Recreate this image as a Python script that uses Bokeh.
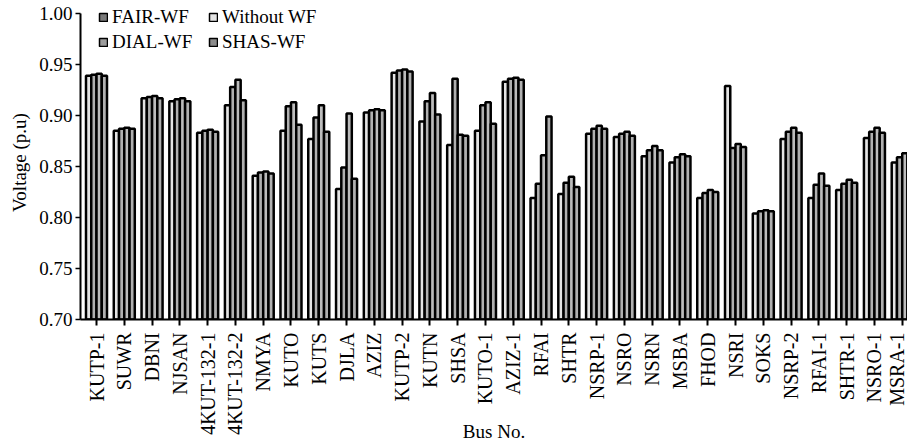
from bokeh.plotting import figure
from bokeh.models import Range1d, FixedTicker, PrintfTickFormatter, Legend, LegendItem
from bokeh.embed import file_html
from bokeh.resources import INLINE
import math

buses = ["KUTP-1", "SUWR", "DBNI", "NJSAN", "4KUT-132-1", "4KUT-132-2", "NMYA", "KUTO",
         "KUTS", "DJLA", "AZIZ", "KUTP-2", "KUTN", "SHSA", "KUTO-1", "AZIZ-1", "RFAI",
         "SHTR", "NSRP-1", "NSRO", "NSRN", "MSBA", "FHOD", "NSRI", "SOKS", "NSRP-2",
         "RFAI-1", "SHTR-1", "NSRO-1", "MSRA-1"]

without_wf = [0.939, 0.885, 0.917, 0.914, 0.883, 0.910, 0.841, 0.885, 0.877, 0.828,
              0.903, 0.942, 0.894, 0.871, 0.885, 0.933, 0.819, 0.823, 0.882, 0.879,
              0.860, 0.854, 0.819, 0.929, 0.804, 0.877, 0.819, 0.827, 0.878, 0.854]
fair_wf = [0.940, 0.887, 0.918, 0.916, 0.885, 0.928, 0.844, 0.909, 0.898, 0.849,
           0.905, 0.944, 0.914, 0.936, 0.910, 0.936, 0.833, 0.834, 0.887, 0.882,
           0.866, 0.859, 0.824, 0.868, 0.806, 0.884, 0.832, 0.833, 0.884, 0.859]
dial_wf = [0.941, 0.888, 0.919, 0.917, 0.886, 0.935, 0.845, 0.913, 0.910, 0.902,
           0.906, 0.945, 0.922, 0.881, 0.913, 0.937, 0.861, 0.840, 0.890, 0.884,
           0.870, 0.862, 0.827, 0.872, 0.807, 0.888, 0.843, 0.837, 0.888, 0.863]
shas_wf = [0.939, 0.887, 0.917, 0.914, 0.884, 0.915, 0.843, 0.891, 0.884, 0.838,
           0.905, 0.943, 0.901, 0.880, 0.892, 0.935, 0.899, 0.830, 0.887, 0.880,
           0.866, 0.860, 0.825, 0.869, 0.806, 0.883, 0.831, 0.834, 0.883, 0.861]

y_ticks = [0.70, 0.75, 0.80, 0.85, 0.90, 0.95, 1.00]

FONT = "Liberation Serif"

p = figure(width=907, height=445, output_backend="svg", toolbar_location=None,
           x_range=Range1d(-0.576, 29.19), y_range=Range1d(0.70, 1.0078),
           min_border_left=80, min_border_right=0, min_border_top=5, min_border_bottom=123)
p.outline_line_color = None
p.xgrid.visible = False
p.ygrid.visible = False
p.background_fill_color = "white"

series = [("Without WF", without_wf, "#e4e4e4"),
          ("FAIR-WF", fair_wf, "#b0b0b0"),
          ("DIAL-WF", dial_wf, "#bcbcbc"),
          ("SHAS-WF", shas_wf, "#b0b0b0")]
legend_fill = {"Without WF": "#e4e4e4", "FAIR-WF": "#7a7a7a",
               "DIAL-WF": "#9c9c9c", "SHAS-WF": "#8c8c8c"}
bw = 0.189
offsets = [-1.5 * bw, -0.5 * bw, 0.5 * bw, 1.5 * bw]
for (name, vals, col), off in zip(series, offsets):
    xs = [i + off for i in range(len(buses))]
    p.vbar(x=xs, top=vals, bottom=0.70, width=bw, fill_color=col,
           line_color="black", line_width=2.5)

# legend proxies (off-range glyphs carrying the legend swatch colours)
proxies = {}
for name in ["FAIR-WF", "Without WF", "DIAL-WF", "SHAS-WF"]:
    proxies[name] = p.rect(x=[-10], y=[0.5], width=0.1, height=0.01,
                           fill_color=legend_fill[name], line_color="black", line_width=1.5)

items = [LegendItem(label=n, renderers=[proxies[n]])
         for n in ["FAIR-WF", "Without WF", "DIAL-WF", "SHAS-WF"]]
legend = Legend(items=items, location=(18, 266), orientation="horizontal", nrows=2,
                background_fill_alpha=0, border_line_color=None,
                label_text_font=FONT, label_text_font_size="19px", label_text_color="black",
                glyph_width=10, glyph_height=10, label_standoff=4, spacing=3,
                padding=0, margin=0, label_height=20, label_width=93)
p.add_layout(legend, "center")

xa = p.xaxis[0]
xa.ticker = FixedTicker(ticks=list(range(len(buses))))
xa.major_label_overrides = {i: b for i, b in enumerate(buses)}
xa.major_label_orientation = math.pi / 2
xa.major_label_text_font = FONT
xa.major_label_text_font_size = "20px"
xa.major_label_text_color = "black"
xa.major_tick_out = 6
xa.major_tick_in = 0
xa.minor_tick_out = 0
xa.minor_tick_in = 0
xa.axis_line_width = 2
xa.major_tick_line_width = 2
xa.major_label_standoff = 7
xa.axis_label = "Bus No."
xa.axis_label_text_font = FONT
xa.axis_label_text_font_size = "19px"
xa.axis_label_text_font_style = "normal"
xa.axis_label_text_color = "black"
xa.axis_label_standoff = -17

ya = p.yaxis[0]
ya.ticker = FixedTicker(ticks=y_ticks)
ya.bounds = (0.70, 1.00)
ya.formatter = PrintfTickFormatter(format="%.2f")
ya.major_label_text_font = FONT
ya.major_label_text_font_size = "19px"
ya.major_label_text_color = "black"
ya.major_tick_out = 5
ya.major_tick_in = 0
ya.minor_tick_out = 0
ya.minor_tick_in = 0
ya.axis_line_width = 2
ya.major_tick_line_width = 1.5
ya.axis_label = "Voltage (p.u)"
ya.axis_label_text_font = FONT
ya.axis_label_text_font_size = "19px"
ya.axis_label_text_font_style = "normal"
ya.axis_label_text_color = "black"
ya.axis_label_standoff = 6
ya.major_label_standoff = 3

open("out.html", "w").write(file_html(p, INLINE))
